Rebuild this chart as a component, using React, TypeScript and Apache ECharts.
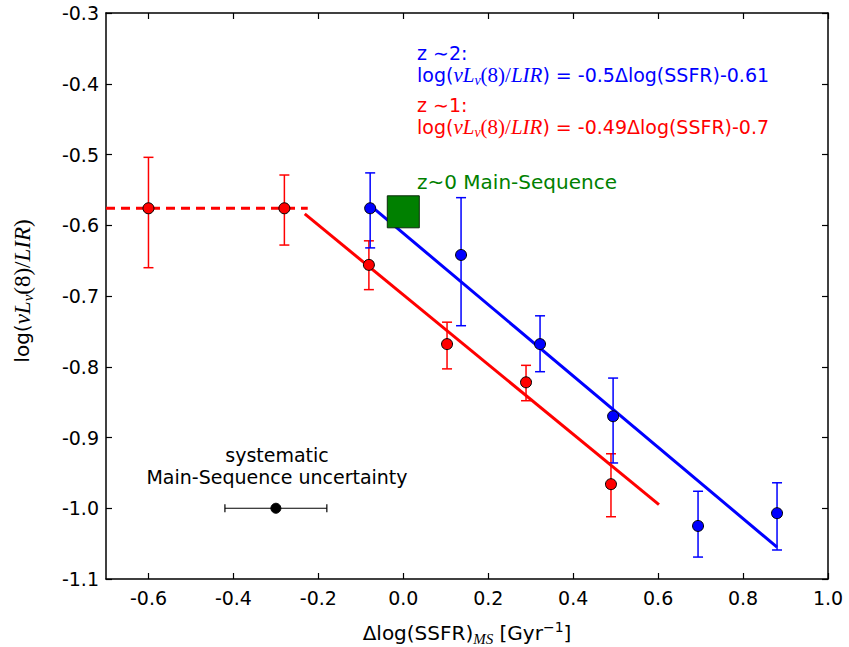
import React, { useEffect, useRef } from "react";
import * as echarts from "echarts";

const xTicks = [-0.6, -0.4, -0.2, 0.0, 0.2, 0.4, 0.6, 0.8, 1.0];
const yTicks = [-1.1, -1.0, -0.9, -0.8, -0.7, -0.6, -0.5, -0.4, -0.3];

// z~1 (red) points: x, y, lower, upper
const redX = [-0.6, -0.28, -0.081, 0.103, 0.289, 0.489];
const redY = [-0.576, -0.576, -0.656, -0.768, -0.822, -0.966];
const redLo = [-0.66, -0.628, -0.691, -0.803, -0.848, -1.012];
const redHi = [-0.504, -0.529, -0.622, -0.737, -0.798, -0.923];

// z~2 (blue) points
const blueX = [-0.078, 0.136, 0.322, 0.494, 0.694, 0.88];
const blueY = [-0.576, -0.642, -0.768, -0.87, -1.025, -1.007];
const blueLo = [-0.632, -0.742, -0.807, -0.936, -1.069, -1.059];
const blueHi = [-0.526, -0.561, -0.728, -0.816, -0.976, -0.964];

// fit lines (endpoints)
const blueFitX = [-0.078, 0.88];
const blueFitY = [-0.572, -1.055];
const redFitX = [-0.232, 0.602];
const redFitY = [-0.584, -0.995];
const redFlatX = [-0.7, -0.225];
const redFlatY = [-0.576, -0.576];

// z~0 main sequence
const msX = [0.0];
const msY = [-0.581];

// systematic uncertainty point
const sysX = [-0.3];
const sysY = [-1.0];
const sysLo = [-0.42];
const sysHi = [-0.18];

const SANS = "DejaVu Sans";
const MATH = "Liberation Serif";

function vErr(color: string) {
  return (params: any, api: any) => {
    const x = api.value(0);
    const lo = api.value(2);
    const hi = api.value(3);
    const a = api.coord([x, hi]);
    const b = api.coord([x, lo]);
    const w = 5;
    const style = { stroke: color, lineWidth: 1.5 };
    return {
      type: "group",
      children: [
        { type: "line", shape: { x1: a[0], y1: a[1], x2: b[0], y2: b[1] }, style },
        { type: "line", shape: { x1: a[0] - w, y1: a[1], x2: a[0] + w, y2: a[1] }, style },
        { type: "line", shape: { x1: b[0] - w, y1: b[1], x2: b[0] + w, y2: b[1] }, style },
      ],
    };
  };
}

function hErr(color: string) {
  return (params: any, api: any) => {
    const y = api.value(1);
    const lo = api.value(2);
    const hi = api.value(3);
    const a = api.coord([lo, y]);
    const b = api.coord([hi, y]);
    const h = 4;
    const style = { stroke: color, lineWidth: 1.2 };
    return {
      type: "group",
      children: [
        { type: "line", shape: { x1: a[0], y1: a[1], x2: b[0], y2: b[1] }, style },
        { type: "line", shape: { x1: a[0], y1: a[1] - h, x2: a[0], y2: a[1] + h }, style },
        { type: "line", shape: { x1: b[0], y1: b[1] - h, x2: b[0], y2: b[1] + h }, style },
      ],
    };
  };
}

const zip = (...arrs: number[][]) => arrs[0].map((_, i) => arrs.map((a) => a[i]));

const mathRich = {
  n: { fontFamily: SANS, fontSize: 19, lineHeight: 24 },
  m: { fontFamily: MATH, fontStyle: "italic", fontSize: 21, lineHeight: 24 },
  u: { fontFamily: MATH, fontSize: 21, lineHeight: 24 },
  s: { fontFamily: MATH, fontStyle: "italic", fontSize: 14, lineHeight: 24, verticalAlign: "bottom" },
  sup: { fontFamily: SANS, fontSize: 13, lineHeight: 24, verticalAlign: "top" },
};

const axisRich = {
  n: { fontFamily: SANS, fontSize: 20, lineHeight: 26 },
  m: { fontFamily: MATH, fontStyle: "italic", fontSize: 23, lineHeight: 26 },
  u: { fontFamily: MATH, fontSize: 23, lineHeight: 26 },
  s: { fontFamily: MATH, fontStyle: "italic", fontSize: 15, lineHeight: 26, verticalAlign: "bottom" },
  sup: { fontFamily: SANS, fontSize: 14, lineHeight: 26, verticalAlign: "top" },
};

function eqText(rhs: string) {
  return "{n|log(}{m|νL}{s|ν}{u|(8)/}{m|LIR}{n|) = " + rhs + "}";
}

export default function App() {
  const ref = useRef<HTMLDivElement>(null);
  useEffect(() => {
    if (!ref.current) return;
    const chart = echarts.init(ref.current, null, { renderer: "svg" });
    const axisLine = { show: true, onZero: false, lineStyle: { color: "#000", width: 1.5 } };
    const tickStyle = { lineStyle: { color: "#000", width: 1.2 } };
    const option: any = {
      animation: false,
      backgroundColor: "#fff",
      grid: { left: 106, right: 21, top: 13, bottom: 68, containLabel: false },
      xAxis: [
        {
          type: "value",
          min: -0.7,
          max: 1.0,
          position: "bottom",
          axisLine,
          axisTick: { show: true, inside: true, length: 6, customValues: xTicks, ...tickStyle },
          axisLabel: {
            show: true,
            customValues: xTicks,
            formatter: (v: number) => v.toFixed(1),
            fontFamily: SANS,
            fontSize: 19,
            color: "#000",
            margin: 9,
          },
          splitLine: { show: false },
        },
        {
          type: "value",
          min: -0.7,
          max: 1.0,
          position: "top",
          axisLine,
          axisTick: { show: true, inside: true, length: 6, customValues: xTicks, ...tickStyle },
          axisLabel: { show: false },
          splitLine: { show: false },
        },
      ],
      yAxis: [
        {
          type: "value",
          min: -1.1,
          max: -0.3,
          position: "left",
          axisLine,
          axisTick: { show: true, inside: true, length: 6, customValues: yTicks, ...tickStyle },
          axisLabel: {
            show: true,
            customValues: yTicks,
            formatter: (v: number) => v.toFixed(1),
            fontFamily: SANS,
            fontSize: 19,
            color: "#000",
            margin: 7,
          },
          splitLine: { show: false },
        },
        {
          type: "value",
          min: -1.1,
          max: -0.3,
          position: "right",
          axisLine,
          axisTick: { show: true, inside: true, length: 6, customValues: yTicks, ...tickStyle },
          axisLabel: { show: false },
          splitLine: { show: false },
        },
      ],
      series: [
        {
          type: "custom",
          name: "redErr",
          renderItem: vErr("#ff0000"),
          data: zip(redX, redY, redLo, redHi),
          z: 2,
        },
        {
          type: "custom",
          name: "blueErr",
          renderItem: vErr("#0000ff"),
          data: zip(blueX, blueY, blueLo, blueHi),
          z: 2,
        },
        {
          type: "custom",
          name: "sysErr",
          renderItem: hErr("#000000"),
          data: zip(sysX, sysY, sysLo, sysHi),
          z: 2,
        },
        {
          type: "line",
          name: "blueFit",
          data: zip(blueFitX, blueFitY),
          showSymbol: false,
          symbol: "none",
          lineStyle: { color: "#0000ff", width: 3 },
          z: 3,
        },
        {
          type: "line",
          name: "redFit",
          data: zip(redFitX, redFitY),
          showSymbol: false,
          symbol: "none",
          lineStyle: { color: "#ff0000", width: 3 },
          z: 3,
        },
        {
          type: "line",
          name: "redFlat",
          data: zip(redFlatX, redFlatY),
          showSymbol: false,
          symbol: "none",
          lineStyle: { color: "#ff0000", width: 3, type: [9, 6] },
          z: 3,
        },
        {
          type: "scatter",
          name: "red",
          data: zip(redX, redY),
          symbol: "circle",
          symbolSize: 11,
          itemStyle: { color: "#ff0000", borderColor: "#000", borderWidth: 1, opacity: 1 },
          z: 4,
        },
        {
          type: "scatter",
          name: "blue",
          data: zip(blueX, blueY),
          symbol: "circle",
          symbolSize: 11,
          itemStyle: { color: "#0000ff", borderColor: "#000", borderWidth: 1, opacity: 1 },
          z: 4,
        },
        {
          type: "scatter",
          name: "sys",
          data: zip(sysX, sysY),
          symbol: "circle",
          symbolSize: 10,
          itemStyle: { color: "#000", borderColor: "#000", borderWidth: 1, opacity: 1 },
          z: 4,
        },
        {
          type: "scatter",
          name: "ms",
          data: zip(msX, msY),
          symbol: "rect",
          symbolSize: 32,
          itemStyle: { color: "#008000", borderColor: "#0b2a0b", borderWidth: 1, opacity: 1 },
          z: 5,
        },
      ],
      graphic: [
        {
          type: "text",
          x: 417,
          y: 53,
          style: { text: "z ∼2:", fill: "#0000ff", fontFamily: SANS, fontSize: 19, verticalAlign: "middle", align: "left" },
        },
        {
          type: "text",
          x: 417,
          y: 75,
          style: {
            text: eqText("-0.5Δlog(SSFR)-0.61"),
            rich: mathRich,
            fill: "#0000ff",
            fontFamily: SANS,
            fontSize: 19,
            verticalAlign: "middle",
            align: "left",
          },
        },
        {
          type: "text",
          x: 417,
          y: 105,
          style: { text: "z ∼1:", fill: "#ff0000", fontFamily: SANS, fontSize: 19, verticalAlign: "middle", align: "left" },
        },
        {
          type: "text",
          x: 417,
          y: 127,
          style: {
            text: eqText("-0.49Δlog(SSFR)-0.7"),
            rich: mathRich,
            fill: "#ff0000",
            fontFamily: SANS,
            fontSize: 19,
            verticalAlign: "middle",
            align: "left",
          },
        },
        {
          type: "text",
          x: 417,
          y: 182,
          style: { text: "z~0 Main-Sequence", fill: "#008000", fontFamily: SANS, fontSize: 20, verticalAlign: "middle", align: "left" },
        },
        {
          type: "text",
          x: 277,
          y: 466,
          style: {
            text: "systematic\nMain-Sequence uncertainty",
            fill: "#000",
            fontFamily: SANS,
            fontSize: 19,
            lineHeight: 22,
            verticalAlign: "middle",
            align: "center",
          },
        },
        {
          type: "text",
          x: 22,
          y: 291,
          rotation: Math.PI / 2,
          style: {
            text: "{n|log(}{m|νL}{s|ν}{u|(8)/}{m|LIR}{u|)}",
            rich: axisRich,
            fill: "#000",
            fontFamily: SANS,
            fontSize: 20,
            verticalAlign: "middle",
            align: "center",
          },
        },
        {
          type: "text",
          x: 467,
          y: 633,
          style: {
            text: "{n|Δlog(SSFR)}{s|MS}{n| [Gyr}{sup|−1}{n|]}",
            rich: axisRich,
            fill: "#000",
            fontFamily: SANS,
            fontSize: 20,
            verticalAlign: "middle",
            align: "center",
          },
        },
      ],
    };
    chart.setOption(option);
    return () => chart.dispose();
  }, []);
  return (
    <div
      ref={ref}
      style={{ position: "fixed", left: 0, top: 0, width: 849, height: 647, background: "#fff" }}
    />
  );
}
